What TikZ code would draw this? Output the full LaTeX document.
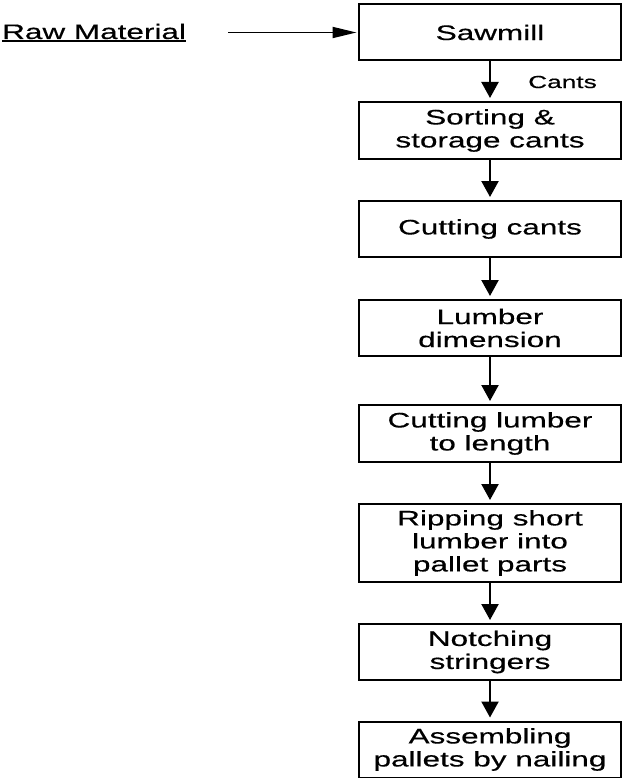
\documentclass[tikz,border=0pt]{standalone}
\usepackage{fontspec}
\usetikzlibrary{arrows.meta}
\newfontfamily\wf[FakeStretch=1.5,FakeBold=0.4]{Liberation Sans}
\newcommand\thickul[1]{\setbox0\hbox{#1}\rlap{\rule[-3pt]{\wd0}{1.8pt}}\box0}
\begin{document}
\begin{tikzpicture}[x=1pt,y=-1pt,
  stepbox/.style={draw, line width=2pt, rectangle, minimum width=262pt, inner sep=0pt,
    align=center, font=\wf\fontsize{21}{23}\selectfont},
  varr/.style={line width=2.2pt, -{Triangle[length=16pt,width=17pt]}, shorten >=3pt},
  harr/.style={line width=1.8pt, -{Triangle[length=24pt,width=11pt]}, shorten >=1.5pt}]
\useasboundingbox (0,0) rectangle (624,778);
\node[stepbox, minimum height=56pt] (saw) at (490,32.5) {Sawmill};
\node[stepbox, minimum height=57pt] (sort) at (490,130.5) {Sorting \&\\storage cants};
\node[stepbox, minimum height=56pt] (cut) at (490,229) {Cutting cants};
\node[stepbox, minimum height=56pt] (lum) at (490,328) {Lumber\\dimension};
\node[stepbox, minimum height=57pt] (len) at (490,433.5) {Cutting lumber\\to length};
\node[stepbox, minimum height=78pt] (rip) at (490,543) {Ripping short\\lumber into\\pallet parts};
\node[stepbox, minimum height=56pt] (notch) at (490,652) {Notching\\stringers};
\node[stepbox, minimum height=56pt] (asm) at (490,749.5) {Assembling\\pallets by nailing};
\node[anchor=base west, inner sep=0pt, font=\wf\fontsize{21}{23}\selectfont] (raw) at (2,39) {\thickul{Raw Material}};
\node[anchor=west, inner sep=0pt, font=\wf\fontsize{17.5}{20}\selectfont] (cants) at (528,82) {Cants};
\coordinate (rawstart) at (228,32.5);
\draw[harr] (rawstart) -- (saw.west);
\draw[varr] (saw) -- (sort);
\draw[varr] (sort) -- (cut);
\draw[varr] (cut) -- (lum);
\draw[varr] (lum) -- (len);
\draw[varr] (len) -- (rip);
\draw[varr] (rip) -- (notch);
\draw[varr] (notch) -- (asm);
\end{tikzpicture}
\end{document}
